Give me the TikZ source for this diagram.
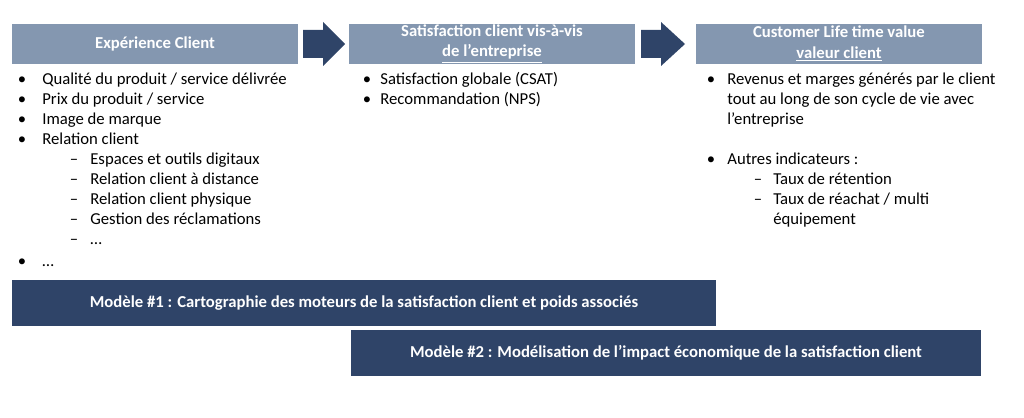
\documentclass[tikz,border=0pt]{standalone}
\usepackage{fontspec}
\setmainfont{Carlito}
\usetikzlibrary{positioning}
\definecolor{headblue}{HTML}{8497B0}
\definecolor{navy}{HTML}{2F4468}
\tikzset{
  head/.style={fill=headblue,text=white,font=\bfseries\fontsize{9.5}{11.5}\selectfont,minimum width=5.72cm,minimum height=0.8cm,align=center,inner sep=0pt},
  model/.style={fill=navy,text=white,font=\bfseries\fontsize{9.5}{11}\selectfont,minimum height=0.92cm,inner sep=0pt},
  item/.style={anchor=base west,inner sep=0pt,font=\fontsize{9.5}{10}\selectfont,align=left},
  dot/.style={anchor=base,inner sep=0pt,font=\fontsize{9.5}{10}\selectfont}
}
\newcommand\flowarrow[2]{\fill[navy] (#1,30) -- (#1+20,30) -- (#1+20,22) -- (#2,44) -- (#1+20,66) -- (#1+20,58) -- (#1,58) -- cycle;}
\begin{document}
\begin{tikzpicture}[x=0.02cm,y=-0.02cm]
\useasboundingbox (0,0) rectangle (1024,418);
% headers
\node[head] (h1) at (155,44) {Expérience Client};
\node[head] (h2) at (492,44) {Satisfaction client vis-à-vis\\\underline{de l’entreprise}};
\node[head] (h3) at (839,44) {Customer Life time value\\\underline{valeur client}};
\flowarrow{303}{345}
\flowarrow{641}{685}
% column 1
\foreach \t [count=\i] in {Qualité du produit / service délivrée,Prix du produit / service,Image de marque,Relation client}{
  \node[dot] at (22,65+20*\i) {•};
  \node[item] (c1-\i) at (42,65+20*\i) {\t};
}
\foreach \t [count=\i] in {Espaces et outils digitaux,Relation client à distance,Relation client physique,Gestion des réclamations,…}{
  \node[dot] at (74,145+20*\i) {–};
  \node[item] (s1-\i) at (90,145+20*\i) {\t};
}
\node[dot] at (22,267) {•};
\node[item] (c1-last) at (42,267) {…};
% column 2
\foreach \t [count=\i] in {Satisfaction globale (CSAT),Recommandation (NPS)}{
  \node[dot] at (367,65+20*\i) {•};
  \node[item] (c2-\i) at (380,65+20*\i) {\t};
}
% column 3
\node[dot] at (711,85) {•};
\node[item] (c3-1) at (727,85) {Revenus et marges générés par le client};
\node[item] (c3-1b) at (727,105) {tout au long de son cycle de vie avec};
\node[item] (c3-1c) at (727,125) {l’entreprise};
\node[dot] at (711,165) {•};
\node[item] (c3-2) at (727,165) {Autres indicateurs~:};
\node[dot] at (758,185) {–};
\node[item] (s3-1) at (773,185) {Taux de rétention};
\node[dot] at (758,205) {–};
\node[item] (s3-2) at (773,205) {Taux de réachat / multi};
\node[item] (s3-2b) at (773,225) {équipement};
% models
\node[model,minimum width=14.08cm] (m1) at (364,303) {Modèle \#1 : Cartographie des moteurs de la satisfaction client et poids associés};
\node[model,minimum width=12.62cm] (m2) at (666,353) {Modèle \#2 : Modélisation de l’impact économique de la satisfaction client};
\end{tikzpicture}
\end{document}
